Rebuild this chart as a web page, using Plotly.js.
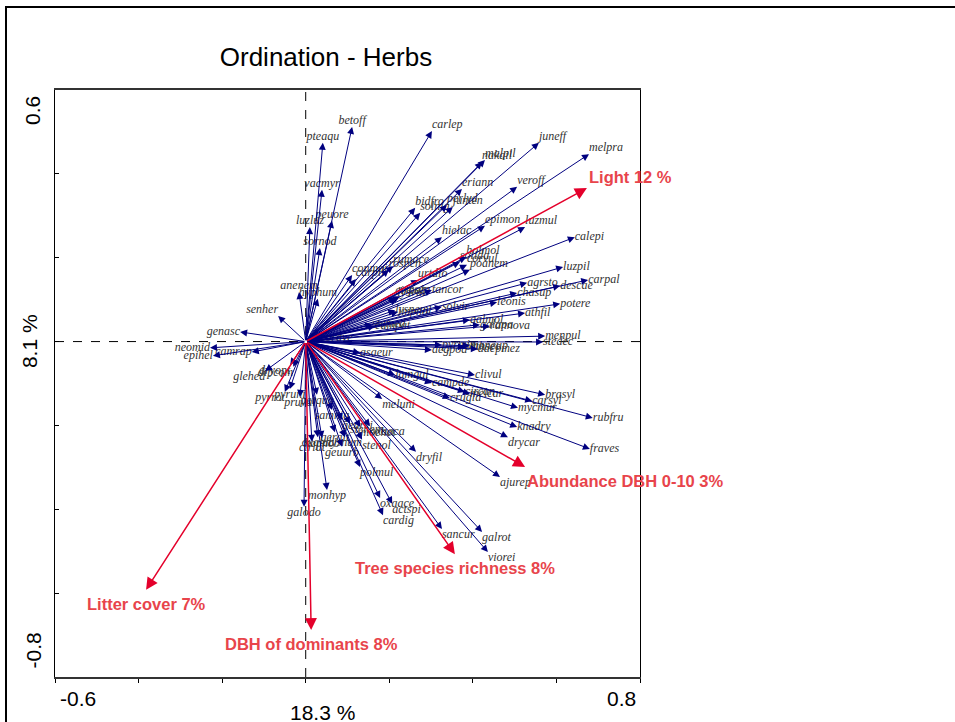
<!DOCTYPE html>
<html><head><meta charset="utf-8">
<script src="https://cdn.plot.ly/plotly-3.0.1.min.js"></script>
<style>html,body{margin:0;padding:0;background:#fff}</style>
</head><body><div id="chart" style="width:955px;height:722px"></div>
<script>
const speciesNames = ['betoff','pteaqu','vacmyr','peuore','luzluz','sornod','anenem','hyphum','senher','genasc','neomid','epihel','camrap','glehed',
'carlep','juneff','melpra','malpil','nakail','eriann','veroff','perlyd','junten','bidfro','solnig','epimon','luzmul','hielac','calepi',
'holmol','solida','corvul','poanem','luzpil','carpal','agrsto','descae','chasup','potere','leonis','solvir','athfil','galmol','galapa','rannova',
'menpul','stedec','pyrmin','dacpmez','orthsec','moneup','conmaj','carpil','rumace','rospen','urtdio','tancor','cirpal','lysvul','vicsep',
'lysnem','impnol','campat','stemed','corave','clivul','brasyl','carsyl','rubfru','mycmur','melcar','circan','crugla','campde','knadry',
'drycar','fraves','ajurep','dryfil','asaeur','lamgal','meluni','pyrrot','pyruni','pruvul','perqua','samnig','geurvi','stenem','moehet',
'oxaaca','geralt','lysnum','geuurb','stenol','cirlut','oxalac','hepnob','polmul','monhyp','galodo','oxaace','actspi','cardig','sancur',
'galrot','viorei','dryopt','dipcom','aegpod'];
const speciesX = [0.111,0.041,0.039,0.063,0.010,0.034,-0.016,0.029,-0.066,-0.157,-0.229,-0.222,-0.129,-0.097,
0.302,0.558,0.678,0.429,0.422,0.374,0.506,0.338,0.352,0.262,0.274,0.429,0.525,0.326,0.644,
0.384,0.369,0.386,0.393,0.616,0.676,0.530,0.609,0.506,0.609,0.458,0.326,0.525,0.393,0.417,0.441,
0.573,0.568,0.326,0.412,0.381,0.393,0.111,0.120,0.209,0.199,0.269,0.302,0.214,0.219,0.226,
0.214,0.221,0.166,0.159,0.034,0.405,0.573,0.542,0.687,0.508,0.393,0.381,0.345,0.302,0.506,
0.484,0.680,0.465,0.264,0.130,0.214,0.183,-0.050,-0.038,-0.014,0.027,0.063,0.087,0.106,0.131,
0.154,0.070,0.094,0.087,0.135,0.015,0.029,0.039,0.130,0.051,-0.004,0.178,0.207,0.185,0.326,
0.422,0.436,-0.037,-0.030,0.302];
const speciesY = [0.512,0.474,0.362,0.288,0.273,0.223,0.118,0.102,0.061,0.023,-0.015,-0.034,-0.025,-0.070,
0.502,0.474,0.447,0.433,0.428,0.364,0.369,0.326,0.321,0.319,0.307,0.276,0.273,0.249,0.249,
0.202,0.190,0.183,0.171,0.178,0.147,0.140,0.133,0.116,0.090,0.094,0.083,0.068,0.052,0.040,0.037,
0.013,-0.001,-0.008,-0.018,-0.013,-0.010,0.159,0.149,0.180,0.171,0.147,0.123,0.106,0.101,0.108,
0.075,0.071,0.037,0.042,0.009,-0.080,-0.127,-0.142,-0.182,-0.158,-0.125,-0.120,-0.135,-0.099,-0.204,
-0.228,-0.256,-0.323,-0.263,-0.027,-0.080,-0.137,-0.120,-0.113,-0.132,-0.127,-0.163,-0.187,-0.196,-0.204,
-0.202,-0.216,-0.228,-0.251,-0.234,-0.239,-0.228,-0.230,-0.299,-0.354,-0.394,-0.373,-0.387,-0.414,-0.447,
-0.454,-0.502,-0.056,-0.060,-0.020];

const envNames = ['Light 12 %','Abundance DBH 0-10 3%','Tree species richness 8%','Litter cover 7%','DBH of dominants 8%'];
const envX = [0.673,0.525,0.357,-0.382,0.013];
const envY = [0.366,-0.299,-0.507,-0.592,-0.688];

const xTickVals = [-0.6,-0.4,-0.2,0,0.2,0.4,0.6,0.8];
const yTickVals = [-0.8,-0.6,-0.4,-0.2,0,0.2,0.4,0.6];
const xEndLabels = ['-0.6','0.8'];
const yEndLabels = ['-0.8','0.6'];
const titleText = 'Ordination - Herbs';
const xTitle = '18.3 %';
const yTitle = '8.1 %';

const NAVY = '#00007f';
const RED = '#e4002b';
const REDTXT = '#e8444b';

function posFor(x, y) {
  const a = Math.atan2(y, x) * 180 / Math.PI;
  if (a >= -22.5 && a < 22.5) return 'middle right';
  if (a >= 22.5 && a < 67.5) return 'top right';
  if (a >= 67.5 && a < 112.5) return 'top center';
  if (a >= 112.5 && a < 157.5) return 'top left';
  if (a >= 157.5 || a < -157.5) return 'middle left';
  if (a >= -157.5 && a < -112.5) return 'bottom left';
  if (a >= -112.5 && a < -67.5) return 'bottom center';
  return 'bottom right';
}

const annotations = [];
speciesNames.forEach((n, i) => {
  annotations.push({x: speciesX[i], y: speciesY[i], ax: 0, ay: 0, xref: 'x', yref: 'y', axref: 'x', ayref: 'y',
    text: '', showarrow: true, arrowhead: 2, arrowsize: 1.4, arrowwidth: 1, arrowcolor: NAVY});
});
envNames.forEach((n, i) => {
  annotations.push({x: envX[i], y: envY[i], ax: 0, ay: 0, xref: 'x', yref: 'y', axref: 'x', ayref: 'y',
    text: '', showarrow: true, arrowhead: 2, arrowsize: 1.6, arrowwidth: 1.5, arrowcolor: RED});
});
const envFont = {family: 'Liberation Sans, Arial, sans-serif', size: 16.5, weight: 'bold', color: REDTXT};
envNames.forEach((n, i) => {
  const a = Math.atan2(envY[i], envX[i]) * 180 / Math.PI;
  let xa = 'center', ya = 'top', xs = 0, ys = -3;
  if (a > -45) { xa = 'left'; xs = 0; ya = a > 0 ? 'bottom' : 'top'; ys = a > 0 ? 0 : -3; }
  annotations.push({x: envX[i], y: envY[i], xref: 'x', yref: 'y', text: n, showarrow: false,
    xanchor: xa, yanchor: ya, xshift: xs, yshift: ys, font: envFont});
});
const axFont = {family: 'Liberation Sans, Arial, sans-serif', size: 21, color: '#000'};
annotations.push({x: xTickVals[0], y: 0, xref: 'x', yref: 'paper', text: xEndLabels[0], showarrow: false, xanchor: 'left', yanchor: 'top', yshift: -8, xshift: 3, font: axFont});
annotations.push({x: xTickVals[xTickVals.length-1], y: 0, xref: 'x', yref: 'paper', text: xEndLabels[1], showarrow: false, xanchor: 'right', yanchor: 'top', yshift: -8, xshift: -2, font: axFont});
annotations.push({x: 0, y: yTickVals[0], xref: 'paper', yref: 'y', text: yEndLabels[0], showarrow: false, textangle: -90, xanchor: 'right', yanchor: 'bottom', xshift: -9, yshift: 6, font: axFont});
annotations.push({x: 0, y: yTickVals[yTickVals.length-1], xref: 'paper', yref: 'y', text: yEndLabels[1], showarrow: false, textangle: -90, xanchor: 'right', yanchor: 'top', xshift: -9, yshift: -4, font: axFont});
annotations.push({x: 0.04, y: 0, xref: 'x', yref: 'paper', text: xTitle, showarrow: false, xanchor: 'center', yanchor: 'top', yshift: -22, font: axFont});
annotations.push({x: 0, y: 0, xref: 'paper', yref: 'y', text: yTitle, showarrow: false, textangle: -90, xanchor: 'right', yanchor: 'middle', xshift: -12, font: axFont});

const traces = [
  {type: 'scatter', mode: 'text', x: speciesX, y: speciesY, text: speciesNames,
   textposition: speciesNames.map((n, i) => posFor(speciesX[i], speciesY[i])),
   textfont: {family: 'Liberation Serif, Times New Roman, serif', size: 12, style: 'italic', color: '#333'},
   hoverinfo: 'none', showlegend: false, cliponaxis: false}
];

const L = 55, R = 315, T = 90, B = 45, PW = 585, PH = 587;
const px = v => (v - L) / PW;
const py = v => (722 - B - v) / PH;

const layout = {
  width: 955, height: 722,
  margin: {l: L, r: R, t: T, b: B},
  paper_bgcolor: '#fff', plot_bgcolor: '#fff',
  title: {text: titleText, x: 326/955, xanchor: 'center', y: 1 - 57/722, yanchor: 'middle',
          font: {family: 'Liberation Sans, Arial, sans-serif', size: 26, color: '#000'}},
  xaxis: {range: [-0.6, 0.8], tickvals: xTickVals, ticktext: xTickVals.map(() => ''), ticks: 'outside', ticklen: 4,
          tickcolor: '#000', showgrid: false, zeroline: false, showline: true, linecolor: '#333', linewidth: 2, mirror: true},
  yaxis: {range: [-0.8, 0.6], tickvals: yTickVals, ticktext: yTickVals.map(() => ''), ticks: 'inside', ticklen: 4,
          tickcolor: '#000', showgrid: false, zeroline: false, showline: true, linecolor: '#000', linewidth: 1, mirror: true},
  shapes: [
    {type: 'line', xref: 'x', yref: 'paper', x0: 0, x1: 0, y0: 0, y1: 1, line: {color: '#000', width: 1, dash: 'dash'}, layer: 'below'},
    {type: 'line', xref: 'paper', yref: 'y', x0: 0, x1: 1, y0: 0, y1: 0, line: {color: '#000', width: 1, dash: 'dash'}, layer: 'below'},
    {type: 'line', xref: 'paper', yref: 'paper', x0: px(5), x1: px(956), y0: py(7), y1: py(7), line: {color: '#000', width: 2}},
    {type: 'line', xref: 'paper', yref: 'paper', x0: px(6), x1: px(6), y0: py(6), y1: py(723), line: {color: '#000', width: 2}}
  ],
  annotations: annotations
};

Plotly.newPlot('chart', traces, layout, {displayModeBar: false, staticPlot: true});
</script>
</body></html>
